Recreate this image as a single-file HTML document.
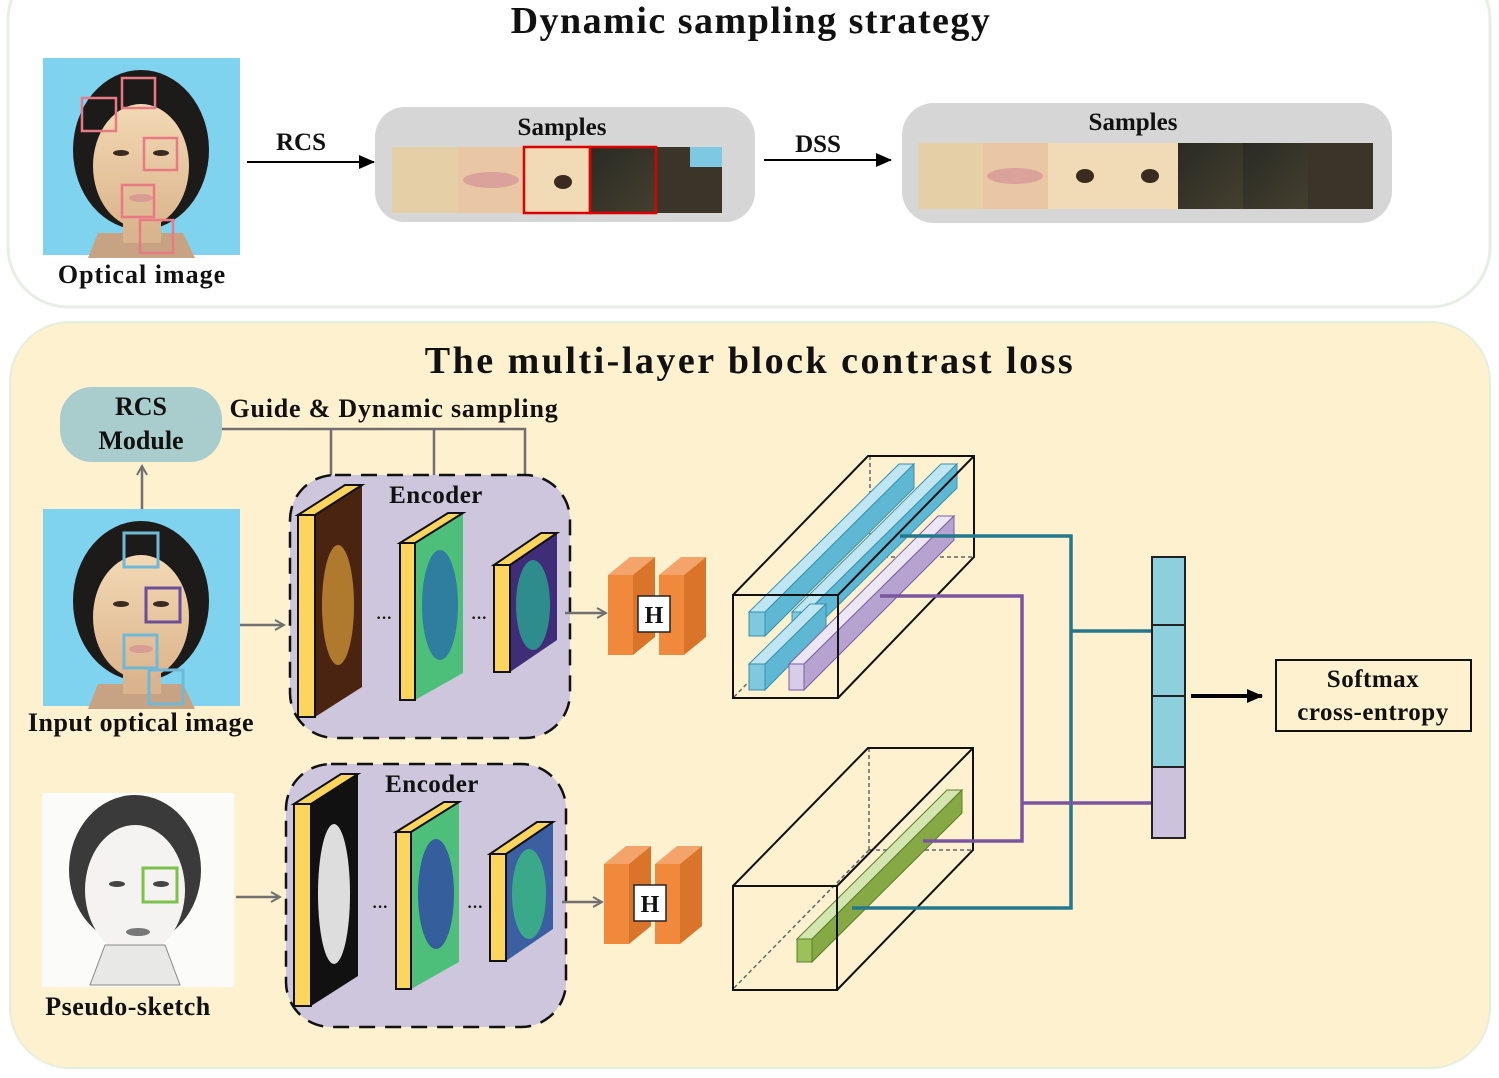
<!DOCTYPE html>
<html><head><meta charset="utf-8"><style>
html,body{margin:0;padding:0;background:#fff;}
svg{display:block;}
text{font-family:"Liberation Serif",serif;font-weight:bold;fill:#111;}
</style></head><body>
<svg width="1499" height="1078" viewBox="0 0 1499 1078" xmlns="http://www.w3.org/2000/svg">
<defs>
<marker id="ag" markerWidth="12" markerHeight="12" refX="10" refY="6" orient="auto" markerUnits="userSpaceOnUse">
<path d="M1,1 L10,6 L1,11" fill="none" stroke="#707070" stroke-width="2"/></marker>
<marker id="ab" markerWidth="16" markerHeight="14" refX="15" refY="7" orient="auto" markerUnits="userSpaceOnUse">
<path d="M0,0 L16,7 L0,14 Z" fill="#000"/></marker>
<linearGradient id="skin" x1="0" y1="0" x2="0" y2="1"><stop offset="0" stop-color="#f2d9b4"/><stop offset="1" stop-color="#dcb58e"/></linearGradient>
<g id="face">
<rect x="0" y="0" width="197" height="197" fill="#7fd3ee"/>
<ellipse cx="98" cy="92" rx="68" ry="80" fill="#1d1b1a"/>
<path d="M45,200 L55,175 L140,175 L152,200 Z" fill="#c7a283"/>
<rect x="80" y="140" width="38" height="45" fill="#d9b48f"/>
<ellipse cx="98" cy="108" rx="48" ry="62" fill="url(#skin)"/>
<path d="M50,70 Q98,20 148,70 L148,55 Q98,10 50,55 Z" fill="#1d1b1a"/>
<ellipse cx="78" cy="95" rx="8" ry="3" fill="#3a2a20"/>
<ellipse cx="118" cy="95" rx="8" ry="3" fill="#3a2a20"/>
<ellipse cx="98" cy="140" rx="12" ry="4" fill="#d89d92"/>
</g>
<linearGradient id="hairstrip" x1="0" y1="0" x2="1" y2="1"><stop offset="0" stop-color="#2a2a24"/><stop offset="1" stop-color="#44402f"/></linearGradient>
</defs>

<!-- top panel -->
<rect x="8" y="-40" width="1482" height="347" rx="60" fill="#fff" stroke="#e6efe3" stroke-width="3"/>
<text x="751" y="33" font-size="38" letter-spacing="1.5" text-anchor="middle">Dynamic sampling strategy</text>
<use href="#face" x="43" y="58"/>
<g fill="none" stroke="#e87a84" stroke-width="2.5">
<rect x="82" y="98" width="34" height="33"/><rect x="122" y="78" width="33" height="30"/><rect x="144" y="138" width="33" height="32"/><rect x="122" y="185" width="32" height="32"/><rect x="140" y="220" width="33" height="33"/></g>
<text x="142" y="283" font-size="26" letter-spacing="1" text-anchor="middle">Optical image</text>
<line x1="247" y1="162" x2="374" y2="162" stroke="#000" stroke-width="2" marker-end="url(#ab)"/>
<text x="301" y="150" font-size="25" text-anchor="middle">RCS</text>
<rect x="375" y="107" width="380" height="115" rx="30" fill="#d6d6d6"/>
<text x="562" y="135" font-size="25" text-anchor="middle">Samples</text>
<rect x="392" y="147" width="66" height="66" fill="#e5cfa6"/>
<rect x="458" y="147" width="66" height="66" fill="#e9c7a4"/><ellipse cx="491" cy="180" rx="28" ry="8" fill="#dba29b"/>
<rect x="524" y="147" width="66" height="66" fill="#f1dbb7"/><ellipse cx="563" cy="182" rx="9" ry="7" fill="#3b2a20"/>
<rect x="590" y="147" width="66" height="66" fill="url(#hairstrip)"/>
<rect x="656" y="147" width="66" height="66" fill="#3b3428"/><rect x="690" y="147" width="32" height="20" fill="#7fc8e2"/>
<rect x="524" y="147" width="66" height="66" fill="none" stroke="#d00" stroke-width="2.5"/>
<rect x="590" y="147" width="66" height="66" fill="none" stroke="#d00" stroke-width="2.5"/>
<line x1="764" y1="160" x2="891" y2="160" stroke="#000" stroke-width="2" marker-end="url(#ab)"/>
<text x="818" y="152" font-size="25" text-anchor="middle">DSS</text>
<rect x="902" y="103" width="490" height="120" rx="32" fill="#d6d6d6"/>
<text x="1133" y="130" font-size="25" text-anchor="middle">Samples</text>
<rect x="918" y="143" width="65" height="66" fill="#e5cfa6"/>
<rect x="983" y="143" width="65" height="66" fill="#e9c7a4"/><ellipse cx="1015" cy="176" rx="28" ry="8" fill="#dba29b"/>
<rect x="1048" y="143" width="65" height="66" fill="#f1dbb7"/><ellipse cx="1085" cy="176" rx="9" ry="7" fill="#3b2a20"/>
<rect x="1113" y="143" width="65" height="66" fill="#f1dbb7"/><ellipse cx="1150" cy="176" rx="9" ry="7" fill="#3b2a20"/>
<rect x="1178" y="143" width="65" height="66" fill="url(#hairstrip)"/>
<rect x="1243" y="143" width="65" height="66" fill="url(#hairstrip)"/>
<rect x="1308" y="143" width="65" height="66" fill="#3b3428"/>

<!-- bottom panel -->
<rect x="10" y="322" width="1480" height="746" rx="60" fill="#fef1d0" stroke="#e4efdc" stroke-width="2"/>
<text x="750" y="373" font-size="38" letter-spacing="2.5" text-anchor="middle">The multi-layer block contrast loss</text>
<rect x="60" y="387" width="162" height="75" rx="32" fill="#a9cccd"/>
<text x="141" y="415" font-size="26" text-anchor="middle">RCS</text>
<text x="141" y="449" font-size="26" text-anchor="middle">Module</text>
<text x="394" y="417" font-size="26" letter-spacing="0.8" text-anchor="middle">Guide &amp; Dynamic sampling</text>
<g stroke="#707070" stroke-width="2.5" fill="none">
<polyline points="222,429 525,429 525,545"/><line x1="331" y1="429" x2="331" y2="497"/><line x1="434" y1="429" x2="434" y2="522"/>
</g>
<line x1="142" y1="509" x2="142" y2="466" stroke="#707070" stroke-width="2.5" marker-end="url(#ag)"/>
<use href="#face" x="43" y="509"/>
<g fill="none" stroke-width="3">
<rect x="124" y="533" width="34" height="34" stroke="#6fb8d6"/><rect x="146" y="588" width="34" height="34" stroke="#6b4e9a"/>
<rect x="124" y="635" width="33" height="33" stroke="#6fb8d6"/><rect x="149" y="670" width="34" height="34" stroke="#6fb8d6"/></g>
<text x="141" y="731" font-size="26" letter-spacing="0.5" text-anchor="middle">Input optical image</text>

<!-- sketch -->
<rect x="42" y="793" width="192" height="194" fill="#fbfbfa"/>
<ellipse cx="135" cy="870" rx="66" ry="75" fill="#3a3a3a"/>
<ellipse cx="135" cy="890" rx="50" ry="65" fill="#f4f3f1"/>
<path d="M90,985 L105,945 L165,945 L180,985 Z" fill="#e8e8e6" stroke="#888"/>
<ellipse cx="117" cy="884" rx="8" ry="3" fill="#444"/><ellipse cx="161" cy="884" rx="8" ry="3" fill="#444"/>
<ellipse cx="138" cy="932" rx="12" ry="4" fill="#777"/>
<rect x="143" y="868" width="34" height="34" fill="none" stroke="#7dc24a" stroke-width="3"/>
<text x="128" y="1015" font-size="26" letter-spacing="0.5" text-anchor="middle">Pseudo-sketch</text>

<!-- encoders -->
<g id="enc1">
<rect x="290" y="475" width="280" height="263" rx="45" fill="#cdc6dc" stroke="#111" stroke-width="2.5" stroke-dasharray="16,10"/>
<text x="436" y="503" font-size="25" letter-spacing="0.5" text-anchor="middle">Encoder</text>
<polygon points="315,515 362,485 362,687 315,717" fill="#4a2410"/>
<ellipse cx="338" cy="605" rx="16" ry="60" fill="#b07a2e"/>
<polygon points="298,515 345,485 362,485 315,515" fill="#fcd55f" stroke="#111" stroke-width="2"/>
<rect x="298" y="515" width="17" height="202" fill="#fcd55f" stroke="#111" stroke-width="2"/>
<polygon points="415,543 463,513 463,673 415,700" fill="#4dbf7a"/>
<ellipse cx="440" cy="605" rx="18" ry="55" fill="#2f7ea0"/>
<polygon points="400,543 448,513 463,513 415,543" fill="#fcd55f" stroke="#111" stroke-width="2"/>
<rect x="400" y="543" width="15" height="157" fill="#fcd55f" stroke="#111" stroke-width="2"/>
<polygon points="510,565 557,533 557,640 510,672" fill="#3f2d78"/>
<ellipse cx="533" cy="605" rx="17" ry="45" fill="#2f8c8c"/>
<polygon points="494,565 541,533 557,533 510,565" fill="#fcd55f" stroke="#111" stroke-width="2"/>
<rect x="494" y="565" width="16" height="107" fill="#fcd55f" stroke="#111" stroke-width="2"/>
<text x="384" y="623" font-size="16" text-anchor="middle">···</text>
<text x="479" y="623" font-size="16" text-anchor="middle">···</text>
</g>
<line x1="240" y1="625" x2="284" y2="625" stroke="#707070" stroke-width="2.5" marker-end="url(#ag)"/>
<line x1="565" y1="613" x2="606" y2="613" stroke="#707070" stroke-width="2.5" marker-end="url(#ag)"/>
<g id="hblk">
<polygon points="608,575 630,557 655,557 633,575" fill="#f4a36a"/><rect x="608" y="575" width="25" height="80" fill="#f0893b"/><polygon points="633,575 655,557 655,637 633,655" fill="#d9742a"/>
<polygon points="659,575 681,557 706,557 684,575" fill="#f4a36a"/><rect x="659" y="575" width="25" height="80" fill="#f0893b"/><polygon points="684,575 706,557 706,637 684,655" fill="#d9742a"/>
<rect x="638" y="596" width="32" height="36" fill="#fff" stroke="#222" stroke-width="1.5"/>
<text x="654" y="623" font-size="24" text-anchor="middle" font-weight="normal">H</text>
</g>

<g transform="translate(-4,289)">
<rect x="290" y="475" width="280" height="263" rx="45" fill="#cdc6dc" stroke="#111" stroke-width="2.5" stroke-dasharray="16,10"/>
<text x="436" y="503" font-size="25" letter-spacing="0.5" text-anchor="middle">Encoder</text>
<polygon points="315,515 362,485 362,687 315,717" fill="#111"/>
<ellipse cx="338" cy="605" rx="16" ry="70" fill="#ddd"/>
<polygon points="298,515 345,485 362,485 315,515" fill="#fcd55f" stroke="#111" stroke-width="2"/>
<rect x="298" y="515" width="17" height="202" fill="#fcd55f" stroke="#111" stroke-width="2"/>
<polygon points="415,543 463,513 463,673 415,700" fill="#4dbf7a"/>
<ellipse cx="440" cy="605" rx="18" ry="55" fill="#355f9c"/>
<polygon points="400,543 448,513 463,513 415,543" fill="#fcd55f" stroke="#111" stroke-width="2"/>
<rect x="400" y="543" width="15" height="157" fill="#fcd55f" stroke="#111" stroke-width="2"/>
<polygon points="510,565 557,533 557,640 510,672" fill="#3b5fa0"/>
<ellipse cx="533" cy="605" rx="17" ry="45" fill="#3aa98a"/>
<polygon points="494,565 541,533 557,533 510,565" fill="#fcd55f" stroke="#111" stroke-width="2"/>
<rect x="494" y="565" width="16" height="107" fill="#fcd55f" stroke="#111" stroke-width="2"/>
<text x="384" y="623" font-size="16" text-anchor="middle">···</text>
<text x="479" y="623" font-size="16" text-anchor="middle">···</text>
</g>
<line x1="236" y1="897" x2="280" y2="897" stroke="#707070" stroke-width="2.5" marker-end="url(#ag)"/>
<line x1="562" y1="902" x2="602" y2="902" stroke="#707070" stroke-width="2.5" marker-end="url(#ag)"/>
<use href="#hblk" x="-4" y="289"/>

<!-- top cube -->
<g stroke="#111" stroke-width="1.5">
<line x1="870" y1="456" x2="870" y2="557" stroke="#666" stroke-dasharray="4,3"/>
<line x1="870" y1="557" x2="974" y2="557" stroke="#666" stroke-dasharray="4,3"/>
<line x1="734" y1="697" x2="870" y2="557" stroke="#666" stroke-dasharray="4,3"/>
</g>
<g stroke="#3a8fab" stroke-width="1">
<polygon points="749,612 899,464 914,464 765,612" fill="#bfe6f2"/><polygon points="765,612 914,464 914,488 765,636" fill="#5fb8d3"/><rect x="749" y="612" width="16" height="24" fill="#7ec9de"/>
<polygon points="792,612 941,464 957,464 807,612" fill="#bfe6f2"/><polygon points="807,612 957,464 957,488 807,636" fill="#5fb8d3"/><rect x="792" y="612" width="15" height="24" fill="#7ec9de"/>
<polygon points="749,664 810,604 826,604 765,664" fill="#bfe6f2"/><polygon points="765,664 826,604 826,628 765,690" fill="#5fb8d3"/><rect x="749" y="664" width="16" height="26" fill="#7ec9de"/>
</g>
<g stroke="#7a5fa6" stroke-width="1">
<polygon points="789,664 938,516 954,516 804,664" fill="#ece6f5"/><polygon points="804,664 954,516 954,540 804,690" fill="#b7a3cf"/><rect x="789" y="664" width="15" height="26" fill="#d8cde8"/>
</g>
<g fill="none" stroke="#111" stroke-width="2">
<rect x="733" y="595" width="105" height="103"/>
<polyline points="733,595 868,456 974,456 974,557 838,698"/>
<line x1="838" y1="595" x2="974" y2="456"/>
</g>

<!-- bottom cube -->
<g stroke="#666" stroke-width="1.5" stroke-dasharray="4,3">
<line x1="869" y1="748" x2="869" y2="850"/><line x1="869" y1="850" x2="973" y2="850"/><line x1="734" y1="988" x2="869" y2="850"/>
</g>
<g stroke="#5d7f2c" stroke-width="1">
<polygon points="797,939 947,790 962,790 812,939" fill="#d4e6b0"/><polygon points="812,939 962,790 962,813 812,962" fill="#86a845"/><rect x="797" y="939" width="15" height="23" fill="#9cc15a"/>
</g>
<g fill="none" stroke="#111" stroke-width="2">
<rect x="733" y="886" width="104" height="104"/>
<polyline points="733,886 868,748 973,748 973,850 837,990"/>
<line x1="837" y1="886" x2="973" y2="748"/>
</g>

<!-- connectors -->
<g fill="none" stroke-width="3.5">
<polyline points="900,536 1071,536 1071,908 852,908" stroke="#23788d"/>
<line x1="1071" y1="631" x2="1152" y2="631" stroke="#23788d"/>
<polyline points="880,596 1022,596 1022,841 923,841" stroke="#7b55a0"/>
<line x1="1022" y1="803" x2="1152" y2="803" stroke="#7b55a0"/>
</g>
<g stroke="#222" stroke-width="2">
<rect x="1152" y="557" width="33" height="68" fill="#8ecfdd"/>
<rect x="1152" y="625" width="33" height="71" fill="#8ecfdd"/>
<rect x="1152" y="696" width="33" height="71" fill="#8ecfdd"/>
<rect x="1152" y="767" width="33" height="71" fill="#cdc2dd"/>
</g>
<line x1="1191" y1="696" x2="1262" y2="696" stroke="#000" stroke-width="4" marker-end="url(#ab)"/>
<rect x="1276" y="660" width="195" height="71" fill="#fef1d0" stroke="#111" stroke-width="2"/>
<text x="1373" y="687" font-size="25" letter-spacing="0.5" text-anchor="middle">Softmax</text>
<text x="1373" y="720" font-size="25" letter-spacing="0.5" text-anchor="middle">cross-entropy</text>
</svg>
</body></html>
